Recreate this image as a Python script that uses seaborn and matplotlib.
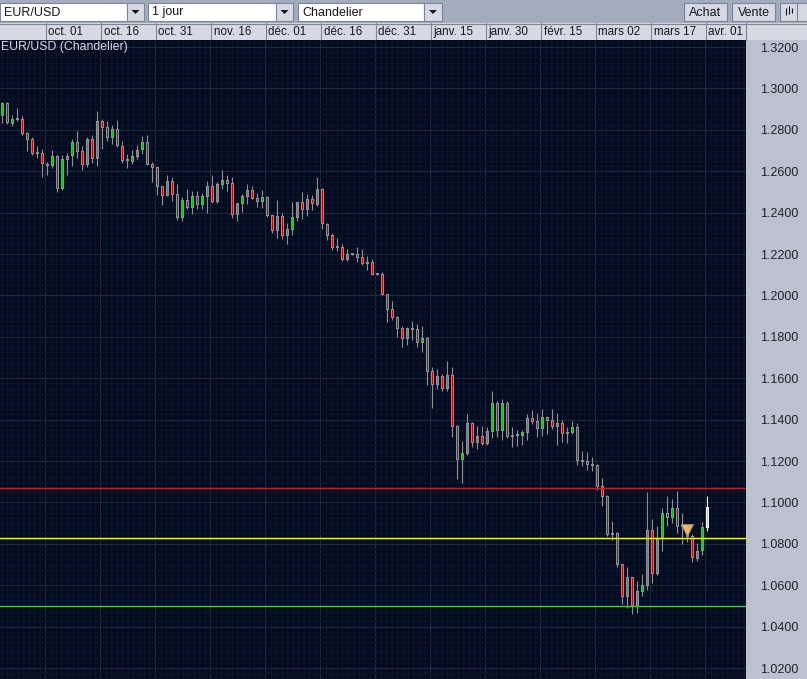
import numpy as np
import pandas as pd
import matplotlib
matplotlib.use("Agg")
import matplotlib.pyplot as plt
from matplotlib.patches import Rectangle
import seaborn as sns

# --- daily candles, one row of values per block of ten ---
opens = [1.2868, 1.2928, 1.2830, 1.2851, 1.2851, 1.2783, 1.2754, 1.2688, 1.2686, 1.2633,
         1.2627, 1.2672, 1.2516, 1.2656, 1.2672, 1.2740, 1.2696, 1.2632, 1.2754, 1.2661,
         1.2841, 1.2812, 1.2762, 1.2802, 1.2720, 1.2654, 1.2646, 1.2670, 1.2701, 1.2740,
         1.2633, 1.2619, 1.2527, 1.2482, 1.2551, 1.2488, 1.2374, 1.2459, 1.2424, 1.2479,
         1.2438, 1.2477, 1.2527, 1.2450, 1.2535, 1.2556, 1.2541, 1.2390, 1.2443, 1.2477,
         1.2508, 1.2469, 1.2453, 1.2474, 1.2387, 1.2313, 1.2382, 1.2289, 1.2318, 1.2376,
         1.2450, 1.2414, 1.2464, 1.2435, 1.2512, 1.2343, 1.2290, 1.2232, 1.2232, 1.2173,
         1.2198, 1.2198, 1.2184, 1.2160, 1.2160, 1.2102, 1.2102, 1.2005, 1.1933, 1.1894,
         1.1841, 1.1791, 1.1841, 1.1836, 1.1772, 1.1793, 1.1633, 1.1569, 1.1609, 1.1550,
         1.1614, 1.1368, 1.1207, 1.1236, 1.1382, 1.1289, 1.1319, 1.1284, 1.1342, 1.1479,
         1.1347, 1.1479, 1.1324, 1.1324, 1.1321, 1.1337, 1.1406, 1.1392, 1.1356, 1.1411,
         1.1397, 1.1366, 1.1382, 1.1340, 1.1337, 1.1364, 1.1200, 1.1200, 1.1185, 1.1181,
         1.1078, 1.1029, 1.0851, 1.0851, 1.0701, 1.0545, 1.0638, 1.0496, 1.0569, 1.0598,
         1.0865, 1.0654, 1.0822, 1.0947, 1.0923, 1.0971, 1.0886, 1.0886, 1.0836, 1.0728,
         1.0764, 1.0878]
highs = [1.2933, 1.2933, 1.2872, 1.2904, 1.2865, 1.2791, 1.2765, 1.2722, 1.2706, 1.2646,
         1.2703, 1.2677, 1.2678, 1.2686, 1.2754, 1.2794, 1.2722, 1.2764, 1.2775, 1.2889,
         1.2852, 1.2841, 1.2823, 1.2846, 1.2746, 1.2682, 1.2701, 1.2725, 1.2769, 1.2773,
         1.2643, 1.2619, 1.2527, 1.2582, 1.2571, 1.2538, 1.2474, 1.2514, 1.2503, 1.2503,
         1.2493, 1.2551, 1.2580, 1.2546, 1.2606, 1.2580, 1.2570, 1.2448, 1.2488, 1.2537,
         1.2527, 1.2493, 1.2508, 1.2479, 1.2390, 1.2459, 1.2397, 1.2348, 1.2450, 1.2450,
         1.2498, 1.2488, 1.2483, 1.2570, 1.2517, 1.2348, 1.2300, 1.2276, 1.2247, 1.2223,
         1.2198, 1.2232, 1.2223, 1.2189, 1.2174, 1.2102, 1.2111, 1.2005, 1.1973, 1.1899,
         1.1851, 1.1846, 1.1875, 1.1860, 1.1851, 1.1797, 1.1653, 1.1643, 1.1619, 1.1682,
         1.1653, 1.1372, 1.1297, 1.1427, 1.1387, 1.1368, 1.1368, 1.1363, 1.1538, 1.1488,
         1.1500, 1.1488, 1.1364, 1.1350, 1.1348, 1.1427, 1.1447, 1.1432, 1.1451, 1.1418,
         1.1451, 1.1432, 1.1398, 1.1363, 1.1393, 1.1384, 1.1248, 1.1243, 1.1219, 1.1185,
         1.1118, 1.1034, 1.0909, 1.0855, 1.0703, 1.0688, 1.0640, 1.0620, 1.0653, 1.1050,
         1.0918, 1.0884, 1.0971, 1.1029, 1.1015, 1.1053, 1.0949, 1.0894, 1.0846, 1.0802,
         1.0904, 1.1031]
lows = [1.2835, 1.2828, 1.2820, 1.2843, 1.2777, 1.2699, 1.2680, 1.2665, 1.2572, 1.2583,
        1.2617, 1.2501, 1.2511, 1.2583, 1.2625, 1.2664, 1.2608, 1.2622, 1.2641, 1.2627,
        1.2707, 1.2748, 1.2733, 1.2718, 1.2641, 1.2616, 1.2637, 1.2661, 1.2685, 1.2630,
        1.2548, 1.2485, 1.2437, 1.2482, 1.2456, 1.2364, 1.2360, 1.2419, 1.2393, 1.2419,
        1.2419, 1.2400, 1.2445, 1.2445, 1.2516, 1.2506, 1.2376, 1.2361, 1.2405, 1.2443,
        1.2465, 1.2429, 1.2424, 1.2380, 1.2303, 1.2279, 1.2274, 1.2250, 1.2293, 1.2361,
        1.2371, 1.2385, 1.2414, 1.2430, 1.2322, 1.2269, 1.2221, 1.2216, 1.2168, 1.2168,
        1.2196, 1.2160, 1.2145, 1.2123, 1.2099, 1.2100, 1.2002, 1.1873, 1.1883, 1.1799,
        1.1752, 1.1760, 1.1783, 1.1752, 1.1728, 1.1569, 1.1458, 1.1550, 1.1540, 1.1540,
        1.1318, 1.1115, 1.1096, 1.1228, 1.1269, 1.1260, 1.1279, 1.1279, 1.1311, 1.1318,
        1.1303, 1.1313, 1.1269, 1.1274, 1.1277, 1.1303, 1.1379, 1.1318, 1.1323, 1.1332,
        1.1356, 1.1279, 1.1294, 1.1289, 1.1329, 1.1181, 1.1176, 1.1157, 1.1152, 1.1062,
        1.0984, 1.0838, 1.0820, 1.0688, 1.0509, 1.0490, 1.0461, 1.0466, 1.0548, 1.0577,
        1.0609, 1.0649, 1.0765, 1.0886, 1.0899, 1.0852, 1.0799, 1.0809, 1.0712, 1.0719,
        1.0746, 1.0864]
closes = [1.2928, 1.2831, 1.2852, 1.2846, 1.2781, 1.2752, 1.2685, 1.2685, 1.2633, 1.2627,
          1.2672, 1.2516, 1.2657, 1.2672, 1.2740, 1.2694, 1.2632, 1.2754, 1.2661, 1.2841,
          1.2810, 1.2762, 1.2802, 1.2720, 1.2651, 1.2648, 1.2672, 1.2701, 1.2740, 1.2632,
          1.2617, 1.2525, 1.2482, 1.2551, 1.2487, 1.2374, 1.2459, 1.2424, 1.2479, 1.2439,
          1.2479, 1.2527, 1.2450, 1.2537, 1.2556, 1.2540, 1.2390, 1.2445, 1.2479, 1.2508,
          1.2467, 1.2453, 1.2474, 1.2385, 1.2313, 1.2382, 1.2289, 1.2319, 1.2377, 1.2450,
          1.2414, 1.2464, 1.2440, 1.2512, 1.2343, 1.2289, 1.2231, 1.2229, 1.2173, 1.2198,
          1.2196, 1.2182, 1.2153, 1.2153, 1.2100, 1.2100, 1.2004, 1.1931, 1.1891, 1.1839,
          1.1791, 1.1841, 1.1835, 1.1772, 1.1793, 1.1632, 1.1569, 1.1609, 1.1550, 1.1614,
          1.1366, 1.1207, 1.1237, 1.1382, 1.1289, 1.1319, 1.1284, 1.1344, 1.1479, 1.1347,
          1.1479, 1.1318, 1.1318, 1.1321, 1.1340, 1.1406, 1.1390, 1.1356, 1.1411, 1.1395,
          1.1366, 1.1382, 1.1332, 1.1332, 1.1363, 1.1199, 1.1197, 1.1182, 1.1177, 1.1076,
          1.1028, 1.0843, 1.0843, 1.0698, 1.0545, 1.0638, 1.0498, 1.0571, 1.0599, 1.0865,
          1.0656, 1.0826, 1.0947, 1.0923, 1.0971, 1.0883, 1.0883, 1.0834, 1.0730, 1.0764,
          1.0880, 1.0976]

date_labels = ["oct. 01", "oct. 16", "oct. 31", "nov. 16", "déc. 01", "déc. 16", "déc. 31",
               "janv. 15", "janv. 30", "févr. 15", "mars 02", "mars 17", "avr. 01"]
price_ticks = [1.02, 1.04, 1.06, 1.08, 1.10, 1.12, 1.14, 1.16, 1.18, 1.20,
               1.22, 1.24, 1.26, 1.28, 1.30, 1.32]
levels = {"#c42026": 1.1068, "#ffff00": 1.0827, "#45c83c": 1.0498}

df = pd.DataFrame({"open": opens, "high": highs, "low": lows, "close": closes})
df["day"] = df.index
df["top"] = df[["open", "close"]].max(axis=1)
df["bottom"] = df[["open", "close"]].min(axis=1)
df["color"] = np.where(df["close"] >= df["open"], "#00c800", "#d00000")

sns.set_theme(style="dark")
plt.rcParams["font.family"] = ["Liberation Sans", "DejaVu Sans"]

W, H = 807, 679
PANEL = "#bbc1ce"
PX_PRICE = 1 / 2070  # one pixel of height in price
fig = plt.figure(figsize=(W / 100, H / 100), dpi=100, facecolor=PANEL)

# window furniture, in pixels
ui = fig.add_axes([0, 0, 1, 1], zorder=0)
ui.set_xlim(0, W)
ui.set_ylim(H, 0)
ui.axis("off")
ui.add_patch(Rectangle((0, 0), W, 23, fc="#a3acbc", ec="none"))
ui.add_patch(Rectangle((0, 23), W, 17, fc="#d6d9e3", ec="none"))
ui.plot([0, W], [23.5, 23.5], color="#7d8698", lw=0.8)


def combo(x0, x1, x2, label):
    ui.add_patch(Rectangle((x0, 2.5), x1 - x0, 18, fc="white", ec="#7d8698", lw=0.8))
    ui.add_patch(Rectangle((x1, 2.5), x2 - x1, 18, fc="#d6d9e3", ec="#7d8698", lw=0.8))
    mid = (x1 + x2) / 2
    ui.fill([mid - 4, mid + 4, mid], [10, 10, 14], color="#15151f", lw=0)
    ui.text(x0 + 4, 12.5, label, fontsize=9, color="#15151f", va="center")


def button(x0, x1, label):
    ui.add_patch(Rectangle((x0, 2.5), x1 - x0, 18, fc="#d6d9e3", ec="#7d8698", lw=0.8))
    ui.text((x0 + x1) / 2, 12.5, label, fontsize=9, color="#15151f", va="center", ha="center")


combo(0, 127, 144, "EUR/USD")
combo(148, 276, 293, "1 jour")
combo(298, 424, 442, "Chandelier")
button(684, 727, "Achat")
button(732, 775, "Vente")
button(780, 797, "")
button(797, 812, "")
ui.vlines([785.5, 788.5, 791.5], [8, 6, 8], [15, 14, 13], color="#15151f", lw=0.8)

tick_px = 45.5 + 55 * np.arange(len(date_labels))
for px, label in zip(tick_px, date_labels):
    ui.plot([px, px], [23, 40], color="#7d8698", lw=0.8)
    ui.text(px + 3, 32, label, fontsize=8.4, color="#15151f", va="center")
ui.plot([745.5, 745.5], [23, 40], color="#7d8698", lw=0.8)

# chart, x in candle numbers, 5 pixels per candle
ax = fig.add_axes([0, 0, 746 / W, (H - 40) / H], zorder=1)
ax.set_facecolor("#030b20")

wicks = df.melt(id_vars="day", value_vars=["high", "low"], value_name="price")
last = df["day"].iloc[-1]
sns.lineplot(data=wicks[wicks["day"] != last], x="day", y="price", units="day", estimator=None,
             color="#8f9195", lw=0.8, ax=ax, zorder=3, legend=False, solid_capstyle="butt")
sns.lineplot(data=wicks[wicks["day"] == last], x="day", y="price", units="day", estimator=None,
             color="#f0f0f0", lw=0.8, ax=ax, zorder=3, legend=False, solid_capstyle="butt")

# body is a 3 px grey bar with a 1 px coloured core
heights = np.maximum(df["top"] - df["bottom"], 2 * PX_PRICE)
edge = ["#8f9195"] * (len(df) - 1) + ["#f4f4f4"]
ax.bar(df["day"], heights, bottom=df["bottom"], width=0.6, color=edge, lw=0, zorder=4)
core = df[df["top"] - df["bottom"] > 3 * PX_PRICE]
core_colors = core["color"].tolist()
core_colors[-1] = "#9ae89a"
ax.bar(core["day"], core["top"] - core["bottom"] - 2 * PX_PRICE, bottom=core["bottom"] + PX_PRICE,
       width=0.2, color=core_colors, lw=0, zorder=4.5)

for color, level in levels.items():
    ax.axhline(level, color=color, lw=1.0, zorder=5)

ax.scatter([137], [1.0868], marker="v", s=75, color="#f6b35f", edgecolor="#8f9195", lw=0.6, zorder=6)

ax.set_xticks(8.6 + 11 * np.arange(len(date_labels)))
ax.set_xticks(np.arange(-1.3, 148.7, 1.1), minor=True)
ax.set_yticks(price_ticks)
ax.set_yticks(np.arange(1.015, 1.3234, 0.0025), minor=True)
ax.set_xlim(-0.46, 148.74)
ax.set_ylim(1.32 - 632 / 2070, 1.32 + 7 / 2070)
ax.grid(which="minor", color="#0c1428", lw=0.8, zorder=0)
ax.grid(which="major", color="#1f293c", lw=0.8, zorder=0.5)
ax.set_axisbelow(True)
ax.tick_params(axis="both", which="both", length=0)
ax.tick_params(axis="x", labelbottom=False)
ax.yaxis.tick_right()
ax.set_yticklabels([f"{p:.4f}" for p in price_ticks], fontsize=9, color="#20222c")
ax.tick_params(axis="y", pad=10)
ax.set_xlabel("")
ax.set_ylabel("")
for spine in ax.spines.values():
    spine.set_visible(False)

ax.text(1, 47, "EUR/USD (Chandelier)", transform=ui.transData, fontsize=8.8, color="#d8dbe2", va="center")

fig.savefig("out.png", dpi=100, facecolor=PANEL)
